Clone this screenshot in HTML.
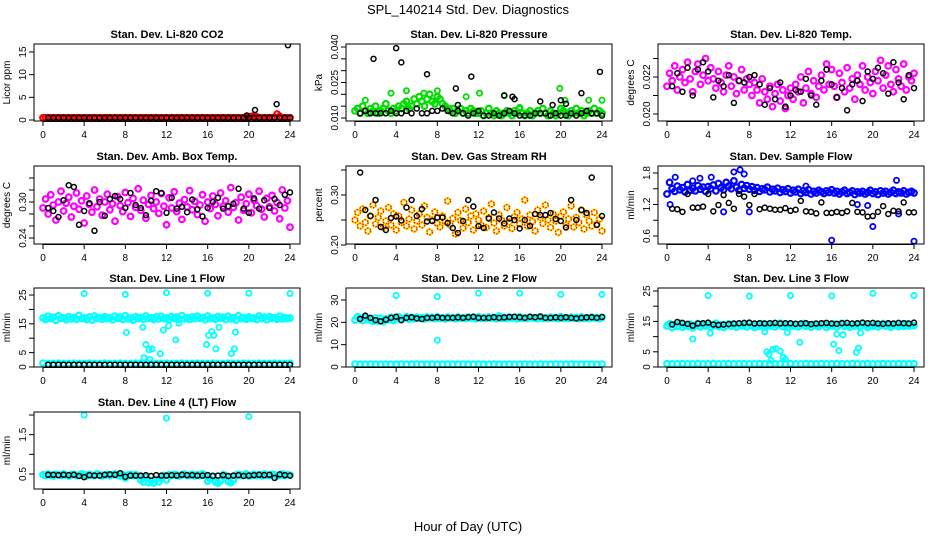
<!DOCTYPE html>
<html><head><meta charset="utf-8"><style>
html,body{margin:0;padding:0;background:#fff;}
svg{display:block;font-family:"Liberation Sans",sans-serif;}
</style></head><body>
<svg id="chart" width="936" height="540" viewBox="0 0 936 540" xmlns="http://www.w3.org/2000/svg">
<rect x="0" y="0" width="936" height="540" fill="#fff"/>
<text x="468" y="14" text-anchor="middle" font-size="13">SPL_140214  Std. Dev. Diagnostics</text>
<text x="468" y="531" text-anchor="middle" font-size="13">Hour of Day (UTC)</text>
</svg>
<script>
// ---- data arrays ----
const xTicks = [0,4,8,12,16,20,24];

const co2Col = [0.5,0.5,0.5,0.5,0.5,0.5,0.5,0.5,0.5,0.5,0.5,0.5,0.5,0.5,0.5,0.5,0.5,0.5,0.5,0.5,0.5,0.5,0.5,0.5,0.5,0.5,0.5,0.5,0.5,0.5,0.5,0.5,0.5,0.5,0.5,0.5,0.5,0.5,0.5,0.5,0.5,0.5,0.5,0.5,0.5,0.5,0.5,0.5,0.5,0.5,0.5,0.5,0.5,0.5,0.5,0.5,0.5,0.5,0.5,0.5,0.5,0.5,0.5,0.5,0.5,0.5,0.5,0.5,0.5,0.5,0.5,0.5,0.5,0.5,0.5,0.5,0.5,0.5,0.5,0.6,0.7,0.8,0.9,0.7,0.5,0.5,0.5,0.5,0.5,0.5,0.6,1.3,0.8,0.5,0.5,0.5,0.5];
const co2Blk = [0.5,0.5,0.5,0.5,0.5,0.5,0.5,0.5,0.5,0.5,0.5,0.5,0.5,0.5,0.5,0.5,0.5,0.5,0.5,0.5,0.5,0.5,0.5,0.5,0.5,0.5,0.5,0.5,0.5,0.5,0.5,0.5,0.5,0.5,0.5,0.5,0.5,0.5,0.5,0.5,0.5,0.5,0.5,0.5,0.5,0.5,0.5,0.5];
const co2OutX = [19.8,20.6,22.7,23.8];
const co2OutY = [1.0,2.2,3.5,16.5];

const presCol = [0.013,0.014,0.012,0.015,0.013,0.012,0.014,0.013,0.015,0.012,0.013,0.014,0.016,0.013,0.012,0.014,0.013,0.015,0.014,0.016,0.017,0.014,0.015,0.018,0.016,0.019,0.017,0.015,0.018,0.020,0.017,0.016,0.019,0.018,0.016,0.015,0.014,0.013,0.014,0.012,0.013,0.014,0.012,0.013,0.012,0.014,0.013,0.012,0.012,0.013,0.011,0.012,0.014,0.012,0.011,0.013,0.012,0.011,0.012,0.013,0.012,0.011,0.013,0.012,0.014,0.012,0.011,0.012,0.013,0.011,0.012,0.013,0.012,0.014,0.012,0.011,0.013,0.012,0.011,0.012,0.014,0.013,0.012,0.011,0.013,0.012,0.014,0.012,0.013,0.011,0.012,0.013,0.012,0.014,0.012,0.013,0.012];
const presColOutX = [1,3.5,5,6.7,8,10.8,12.1,14.5,16,19.9,20.4,22.7,24];
const presColOutY = [0.0175,0.0205,0.0215,0.0205,0.0215,0.019,0.0205,0.0195,0.0145,0.0225,0.0175,0.0175,0.0175];
const presBlk = [0.012,0.013,0.012,0.012,0.012,0.012,0.013,0.012,0.012,0.013,0.012,0.014,0.012,0.012,0.013,0.013,0.014,0.013,0.012,0.013,0.012,0.011,0.012,0.013,0.011,0.011,0.012,0.011,0.012,0.013,0.012,0.011,0.011,0.011,0.012,0.012,0.012,0.011,0.012,0.011,0.011,0.012,0.011,0.012,0.013,0.012,0.012,0.011];
const presOutX = [1.8,4,4.5,7,9.8,10,11.3,14.5,18,19.2,20,20.5,22,23.8,15.3,15.5];
const presOutY = [0.035,0.0395,0.0335,0.0285,0.0225,0.0155,0.0275,0.0195,0.017,0.0155,0.0175,0.016,0.0205,0.0295,0.019,0.018];

const tempCol = [0.0215,0.0222,0.0218,0.0226,0.0213,0.0220,0.0224,0.0217,0.0228,0.0219,0.0212,0.0223,0.0227,0.0216,0.0221,0.0230,0.0218,0.0225,0.0219,0.0214,0.0223,0.0217,0.0212,0.0221,0.0226,0.0215,0.0220,0.0211,0.0218,0.0224,0.0213,0.0219,0.0216,0.0210,0.0217,0.0213,0.0206,0.0219,0.0212,0.0208,0.0215,0.0204,0.0211,0.0216,0.0207,0.0213,0.0203,0.0210,0.0214,0.0208,0.0216,0.0212,0.0220,0.0206,0.0214,0.0223,0.0211,0.0218,0.0209,0.0215,0.0221,0.0213,0.0227,0.0216,0.0224,0.0215,0.0209,0.0222,0.0217,0.0212,0.0225,0.0214,0.0219,0.0208,0.0221,0.0216,0.0226,0.0213,0.0220,0.0217,0.0211,0.0223,0.0218,0.0229,0.0214,0.0221,0.0226,0.0216,0.0212,0.0224,0.0219,0.0215,0.0227,0.0213,0.0220,0.0218,0.0222];
const tempBlk = [0.0215,0.0222,0.0212,0.0225,0.0210,0.0224,0.0228,0.0223,0.0209,0.0218,0.0215,0.0221,0.0206,0.0218,0.0217,0.0220,0.0221,0.0216,0.0205,0.0214,0.0208,0.0217,0.0204,0.0210,0.0213,0.0212,0.0219,0.0210,0.0205,0.0218,0.0224,0.0216,0.0209,0.0214,0.0202,0.0216,0.0218,0.0207,0.0223,0.0219,0.0225,0.0222,0.0211,0.0228,0.0217,0.0208,0.0221,0.0214];

const ambCol = [0.290,0.305,0.280,0.312,0.295,0.270,0.300,0.318,0.285,0.298,0.308,0.275,0.293,0.315,0.288,0.302,0.265,0.310,0.296,0.283,0.320,0.292,0.305,0.278,0.300,0.313,0.287,0.297,0.268,0.309,0.294,0.284,0.316,0.299,0.276,0.306,0.291,0.322,0.286,0.303,0.273,0.296,0.311,0.289,0.300,0.281,0.314,0.293,0.262,0.307,0.290,0.317,0.284,0.298,0.271,0.304,0.292,0.319,0.287,0.301,0.279,0.295,0.312,0.268,0.300,0.289,0.310,0.296,0.277,0.315,0.293,0.302,0.283,0.324,0.291,0.299,0.270,0.308,0.286,0.297,0.313,0.282,0.303,0.294,0.318,0.288,0.275,0.306,0.292,0.311,0.285,0.299,0.272,0.320,0.290,0.302,0.258];
const ambBlk = [0.290,0.285,0.275,0.303,0.328,0.325,0.262,0.285,0.298,0.252,0.300,0.277,0.305,0.310,0.305,0.290,0.315,0.295,0.290,0.278,0.302,0.318,0.315,0.282,0.307,0.289,0.292,0.283,0.304,0.288,0.276,0.290,0.300,0.307,0.289,0.293,0.297,0.322,0.289,0.282,0.306,0.289,0.303,0.290,0.305,0.295,0.312,0.316];

const rhCol = [0.250,0.265,0.238,0.272,0.245,0.228,0.258,0.280,0.242,0.255,0.268,0.235,0.248,0.275,0.240,0.262,0.230,0.258,0.245,0.285,0.238,0.252,0.270,0.232,0.248,0.262,0.240,0.278,0.255,0.226,0.250,0.266,0.243,0.236,0.258,0.247,0.288,0.240,0.253,0.222,0.265,0.249,0.234,0.272,0.245,0.258,0.230,0.262,0.250,0.240,0.268,0.235,0.255,0.282,0.244,0.228,0.260,0.250,0.238,0.275,0.246,0.233,0.257,0.265,0.242,0.252,0.290,0.238,0.260,0.247,0.228,0.270,0.255,0.243,0.280,0.250,0.235,0.262,0.248,0.225,0.258,0.266,0.240,0.252,0.278,0.236,0.255,0.245,0.270,0.232,0.260,0.248,0.238,0.265,0.242,0.252,0.228];
const rhBlk = [0.345,0.270,0.258,0.290,0.236,0.230,0.254,0.257,0.249,0.275,0.290,0.258,0.272,0.247,0.248,0.255,0.255,0.244,0.234,0.224,0.248,0.290,0.277,0.238,0.234,0.253,0.265,0.253,0.243,0.253,0.250,0.233,0.250,0.238,0.262,0.260,0.260,0.264,0.252,0.248,0.235,0.290,0.250,0.270,0.264,0.335,0.240,0.258];

const flowCol = [1.40,1.62,1.50,1.45,1.55,1.48,1.52,1.44,1.58,1.47,1.51,1.46,1.56,1.49,1.53,1.45,1.54,1.50,1.57,1.46,1.60,1.52,1.48,1.62,1.55,1.50,1.65,1.53,1.47,1.58,1.51,1.56,1.49,1.54,1.47,1.52,1.45,1.50,1.48,1.53,1.44,1.49,1.46,1.51,1.43,1.48,1.45,1.50,1.42,1.47,1.44,1.49,1.41,1.46,1.43,1.48,1.40,1.45,1.42,1.47,1.44,1.41,1.46,1.43,1.48,1.42,1.45,1.40,1.44,1.47,1.41,1.43,1.46,1.39,1.44,1.42,1.45,1.40,1.43,1.47,1.41,1.44,1.39,1.46,1.42,1.45,1.40,1.43,1.47,1.41,1.44,1.42,1.46,1.40,1.43,1.45,1.42];
const flowColOutX = [0.3,0.8,3.2,5.5,6.5,7.1,7.5,8,16,19.5,20,22.3,22.5,24,4.3,18.5,13.5,2.5];
const flowColOutY = [1.2,1.72,1.70,1.06,1.82,1.86,1.78,1.06,0.52,1.18,0.78,1.66,1.02,0.5,1.72,1.2,1.55,1.65];
const flowBlk = [1.12,1.11,1.06,1.40,1.14,1.14,1.16,1.40,1.07,1.19,1.38,1.23,1.12,1.40,1.35,1.19,1.40,1.11,1.14,1.12,1.10,1.10,1.13,1.08,1.10,1.27,1.07,1.06,1.03,1.24,1.04,1.04,1.06,1.04,1.07,1.23,1.06,1.05,0.97,0.98,1.06,1.17,1.02,1.08,1.07,1.24,1.05,1.05];

const line1Hi = [17.0,16.5,17.6,16.8,17.3,16.2,17.8,16.9,17.1,16.4,17.5,16.7,17.2,16.6,17.9,16.8,17.0,16.5,17.4,16.3,17.7,16.9,17.2,16.6,17.5,16.8,17.1,16.4,17.6,16.9,17.3,16.5,17.8,16.7,17.0,16.3,17.5,16.8,17.2,16.6,17.7,16.9,17.1,16.5,17.4,16.7,17.6,16.8,17.0,16.4,17.5,16.9,17.3,16.6,17.8,16.7,17.1,16.5,17.4,16.8,17.6,16.9,17.2,16.4,17.7,16.8,17.0,16.6,17.5,16.9,17.3,16.5,17.6,16.7,17.1,16.3,17.8,16.8,17.2,16.6,17.4,16.9,17.0,16.5,17.7,16.8,17.3,16.4,17.5,16.9,17.1,16.6,17.6,16.7,17.2,16.8,17.0];
const line1Lo = [1.3,1.2,1.2,1.3,1.2,1.2,1.3,1.2,1.2,1.3,1.2,1.2,1.3,1.2,1.2,1.3,1.2,1.2,1.3,1.2,1.2,1.3,1.2,1.2,1.3,1.2,1.2,1.3,1.2,1.2,1.3,1.2,1.2,1.3,1.2,1.2,1.3,1.2,1.2,1.3,1.2,1.2,1.3,1.2,1.2,1.3,1.2,1.2,1.3];
const line1OutX = [4,8,12,16,20,24,8.1,9.7,10,10.3,10.6,11.4,11.7,12.2,12.9,13.2,15.9,16.1,16.4,16.6,16.8,17.1,18.3,18.6,18.7,9.8,10.4];
const line1OutY = [25.5,25.2,25.8,25.6,25.6,25.5,12,13.8,7.8,6,6.3,4.6,12.8,14.3,9.4,15.2,7.8,11,12.3,11,6.3,13.8,4.7,6.3,12.1,3.2,2.6];
const line1Blk = [0.8,0.8,0.8,0.8,0.8,0.8,0.8,0.8,0.8,0.8,0.8,0.8,0.8,0.8,0.8,0.8,0.8,0.8,0.8,0.8,0.8,0.8,0.8,0.8,0.8,0.8,0.8,0.8,0.8,0.8,0.8,0.8,0.8,0.8,0.8,0.8,0.8,0.8,0.8,0.8,0.8,0.8,0.8,0.8,0.8,0.8,0.8,0.8];

const line2Hi = [21.0,22.5,21.8,20.8,22.2,21.5,21.0,20.5,22.0,20.6,21.8,20.4,21.5,21.2,22.3,20.8,21.6,22.4,21.2,21.9,22.5,21.4,22.0,21.6,22.3,21.8,22.1,21.5,22.4,21.9,22.2,21.6,22.5,21.8,22.0,21.5,22.3,21.9,22.1,21.6,22.4,21.8,22.0,21.7,22.3,21.9,22.1,21.6,22.5,21.8,22.0,21.7,22.4,21.9,22.2,21.6,22.8,21.8,22.0,21.7,22.4,21.9,22.2,21.6,22.5,21.8,22.0,21.7,22.3,21.9,22.1,21.6,22.4,21.8,22.0,21.7,22.3,21.9,22.1,21.6,22.5,21.8,22.0,21.7,22.3,21.9,22.2,21.6,22.4,21.8,22.0,21.7,22.3,21.9,22.1,21.6,22.2];
const line2Lo = [1.3,1.2,1.2,1.3,1.2,1.2,1.3,1.2,1.2,1.3,1.2,1.2,1.3,1.2,1.2,1.3,1.2,1.2,1.3,1.2,1.2,1.3,1.2,1.2,1.3,1.2,1.2,1.3,1.2,1.2,1.3,1.2,1.2,1.3,1.2,1.2,1.3,1.2,1.2,1.3,1.2,1.2,1.3,1.2,1.2,1.3,1.2,1.2,1.3];
const line2OutX = [4,8,8,12,16,20,24];
const line2OutY = [32,31.5,12,33,33,32.5,32.5];
const line2Blk = [21.5,23,22,21,20.5,21.2,22,22.5,21,22,22.3,21.8,21.5,22,22,22.3,22,22,22,22.2,22,22.3,22.5,22,22,22,22.3,22,22.2,22.4,22.5,22.3,22,22.5,22.3,22.6,22,22,22.2,22,22.3,22,21.8,22,22.2,22.3,22,22.4];

const line3Hi = [13.5,14.2,13.0,13.8,13.3,14.4,13.1,13.7,13.4,14.1,12.9,13.6,14.3,13.2,13.8,13.5,14.0,13.1,13.7,14.4,13.3,13.9,13.0,13.6,14.2,13.4,13.8,13.1,14.1,13.5,13.9,13.2,14.3,13.6,13.0,13.8,13.4,14.2,13.1,13.7,13.5,14.0,13.2,13.8,14.4,13.3,13.6,13.0,13.9,13.5,14.1,13.2,13.7,14.3,13.4,13.8,13.1,14.0,13.6,13.3,13.9,14.2,13.0,13.7,13.5,14.1,13.2,13.8,14.4,13.4,13.6,13.1,14.0,13.5,13.9,13.3,14.2,13.6,13.0,13.8,13.4,14.1,13.2,13.7,14.3,13.5,13.9,13.1,13.6,14.0,13.3,13.8,13.4,14.2,13.5,13.7,13.6];
const line3Lo = [1.1,1.0,1.0,1.1,1.0,1.0,1.1,1.0,1.0,1.1,1.0,1.0,1.1,1.0,1.0,1.1,1.0,1.0,1.1,1.0,1.0,1.1,1.0,1.0,1.1,1.0,1.0,1.1,1.0,1.0,1.1,1.0,1.0,1.1,1.0,1.0,1.1,1.0,1.0,1.1,1.0,1.0,1.1,1.0,1.0,1.1,1.0,1.0,1.1];
const line3OutX = [4,8,12,16,20,24,2.5,4.2,9.5,9.9,10.3,10.6,11,11.3,11.7,12.9,16.2,16.5,16.7,17.1,18.4,18.6,18.8,9.7,11.5,10.1];
const line3OutY = [23.5,23.3,23.5,23.4,24.2,23.5,9.2,11.1,11.6,4.2,5.8,6,5.2,3.2,11.4,8.1,7.5,10.8,5.4,10.6,4.8,6.2,11.2,5,2.5,2.2];
const line3Blk = [14.0,14.8,14.5,14.2,13.6,14.3,14.4,14.6,14.0,13.8,14.0,14.1,14.3,14.4,14.5,14.6,14.3,14.4,14.3,14.4,14.5,14.3,14.4,14.4,14.2,14.3,14.4,14.1,14.3,14.4,14.5,14.3,14.2,14.4,14.5,14.3,14.4,14.6,14.4,14.5,14.3,14.2,14.4,14.3,14.5,14.4,14.3,14.6];

const line4Col = [0.48,0.46,0.50,0.47,0.45,0.49,0.48,0.46,0.50,0.47,0.45,0.48,0.49,0.46,0.47,0.50,0.48,0.45,0.49,0.47,0.46,0.50,0.48,0.45,0.47,0.49,0.46,0.48,0.50,0.47,0.45,0.48,0.40,0.47,0.49,0.46,0.48,0.45,0.35,0.30,0.42,0.28,0.33,0.27,0.36,0.30,0.40,0.46,0.35,0.48,0.46,0.49,0.47,0.45,0.48,0.50,0.46,0.47,0.49,0.45,0.48,0.46,0.50,0.47,0.32,0.38,0.45,0.30,0.27,0.33,0.48,0.46,0.31,0.28,0.35,0.47,0.49,0.46,0.48,0.50,0.45,0.47,0.49,0.46,0.48,0.45,0.50,0.47,0.46,0.49,0.48,0.45,0.47,0.50,0.46,0.48,0.47];
const line4OutX = [4,12,20];
const line4OutY = [2.0,1.92,1.96];
const line4Blk = [0.48,0.48,0.47,0.48,0.47,0.48,0.45,0.42,0.47,0.46,0.46,0.48,0.49,0.48,0.52,0.43,0.46,0.46,0.46,0.47,0.45,0.47,0.46,0.46,0.47,0.46,0.48,0.47,0.47,0.46,0.46,0.47,0.45,0.46,0.47,0.45,0.46,0.47,0.45,0.46,0.47,0.48,0.47,0.48,0.40,0.49,0.47,0.46];

// ---- panel layout ----
const panels = [
 {id:'co2',title:'Stan. Dev. Li-820 CO2',ylab:'Licor ppm',col:0,row:0,v0:0,p0:120,v1:15,p1:52,ticks:[0,5,10,15],labels:['0','5','10','15'],
  series:[{d:co2Col,c:'#ff0000'}],outs:[{x:co2OutX,y:co2OutY,c:'#000'}],blk:co2Blk},
 {id:'pressure',title:'Stan. Dev. Li-820 Pressure',ylab:'kPa',col:1,row:0,v0:0.010,p0:118,v1:0.040,p1:47,ticks:[0.010,0.015,0.020,0.025,0.030,0.035,0.040],labels:['0.010','','','0.025','','','0.040'],
  series:[{d:presCol,c:'#00dd00'}],outs:[{x:presColOutX,y:presColOutY,c:'#00dd00'},{x:presOutX,y:presOutY,c:'#000'}],blk:presBlk},
 {id:'temp',title:'Stan. Dev. Li-820 Temp.',ylab:'degrees C',col:2,row:0,v0:0.020,p0:114,v1:0.022,p1:77,ticks:[0.020,0.021,0.022,0.023],labels:['0.020','','0.022',''],
  series:[{d:tempCol,c:'#ff00ff'}],outs:[],blk:tempBlk},
 {id:'ambbox',title:'Stan. Dev. Amb. Box Temp.',ylab:'degrees C',col:0,row:1,v0:0.24,p0:238,v1:0.30,p1:202,ticks:[0.24,0.26,0.28,0.30,0.32,0.34],labels:['0.24','','','0.30','',''],
  series:[{d:ambCol,c:'#ff00ff'}],outs:[],blk:ambBlk},
 {id:'rh',title:'Stan. Dev. Gas Stream RH',ylab:'percent',col:1,row:1,v0:0.20,p0:245,v1:0.30,p1:195,ticks:[0.20,0.25,0.30,0.35],labels:['0.20','','0.30',''],
  series:[{d:rhCol,c:'#ffdd00',dash:'#ff0000'}],outs:[],blk:rhBlk},
 {id:'sampleflow',title:'Stan. Dev. Sample Flow',ylab:'ml/min',col:2,row:1,v0:0.6,p0:236,v1:1.8,p1:173,ticks:[0.6,0.9,1.2,1.5,1.8],labels:['0.6','','1.2','','1.8'],
  series:[{d:flowCol,c:'#0000ff'}],outs:[{x:flowColOutX,y:flowColOutY,c:'#0000ff'}],blk:flowBlk},
 {id:'line1',title:'Stan. Dev. Line 1 Flow',ylab:'ml/min',col:0,row:2,v0:0,p0:367,v1:25,p1:295,ticks:[0,5,10,15,20,25],labels:['0','5','','15','','25'],
  series:[{d:line1Hi,c:'#00ffff'},{d:line1Lo,c:'#00ffff'}],outs:[{x:line1OutX,y:line1OutY,c:'#00ffff'}],blk:line1Blk},
 {id:'line2',title:'Stan. Dev. Line 2 Flow',ylab:'ml/min',col:1,row:2,v0:0,p0:367,v1:30,p1:300,ticks:[0,10,20,30],labels:['0','10','20','30'],
  series:[{d:line2Hi,c:'#00ffff'},{d:line2Lo,c:'#00ffff'}],outs:[{x:line2OutX,y:line2OutY,c:'#00ffff'}],blk:line2Blk},
 {id:'line3',title:'Stan. Dev. Line 3 Flow',ylab:'ml/min',col:2,row:2,v0:0,p0:367,v1:25,p1:291,ticks:[0,5,10,15,20,25],labels:['0','5','','15','','25'],
  series:[{d:line3Hi,c:'#00ffff'},{d:line3Lo,c:'#00ffff'}],outs:[{x:line3OutX,y:line3OutY,c:'#00ffff'}],blk:line3Blk},
 {id:'line4',title:'Stan. Dev. Line 4 (LT) Flow',ylab:'ml/min',col:0,row:3,v0:0.5,p0:474,v1:2.0,p1:415,ticks:[0.5,1.0,1.5,2.0],labels:['0.5','','1.5',''],
  series:[{d:line4Col,c:'#00ffff'}],outs:[{x:line4OutX,y:line4OutY,c:'#00ffff'}],blk:line4Blk}
];
const colX0 = [43,355,667];
const rowBox = [[44,121],[166,244],[288,367],[412,489]];
const ylabX = [10,322,634];

const NS='http://www.w3.org/2000/svg';
const svg=document.getElementById('chart');
function mk(tag,attrs,parent){const e=document.createElementNS(NS,tag);for(const k in attrs)e.setAttribute(k,attrs[k]);(parent||svg).appendChild(e);return e;}

panels.forEach(p=>{
  const g=mk('g',{});
  
  
  const x0=colX0[p.col], xs=v=>x0+v*247/24;
  const ys=v=>p.p0+(v-p.v0)*(p.p1-p.p0)/(p.v1-p.v0);
  const [bt,bb]=rowBox[p.row];
  const clipId='clip-'+p.id;
  const cp=mk('clipPath',{id:clipId},g);
  mk('rect',{x:x0-9,y:bt,width:266,height:bb-bt},cp);
  const t=mk('text',{x:x0+124,y:bt-6,'text-anchor':'middle','font-size':'11','font-weight':'bold'},g);
  t.textContent=p.title;
  
  
  const yl=mk('text',{x:ylabX[p.col],y:(bt+bb)/2,'text-anchor':'middle','font-size':'10',transform:'rotate(-90 '+ylabX[p.col]+' '+((bt+bb)/2)+')'},g);
  yl.textContent=p.ylab;
  
  
  const marks=mk('g',{'clip-path':'url(#'+clipId+')'},g);
  
  
  p.series.forEach(s=>{
    const n=s.d.length;
    s.d.forEach((v,i)=>{
      const c=mk('circle',{cx:xs(i*24/(n-1)),cy:ys(v),r:2.8,fill:'none',stroke:s.c,'stroke-width':2.2},marks);
      
      
      if(s.dash){const c2=mk('circle',{cx:xs(i*24/(n-1)),cy:ys(v),r:2.8,fill:'none',stroke:s.dash,'stroke-width':1.2,'stroke-dasharray':'1.5,1.5'},marks);
        
        }
    });
  });
  p.outs.filter(o=>o.c!=='#000').forEach(o=>{
    o.x.forEach((xv,i)=>{
      const c=mk('circle',{cx:xs(xv),cy:ys(o.y[i]),r:2.6,fill:'none',stroke:o.c,'stroke-width':1.8},marks);
      
      
    });
  });
  p.blk.forEach((v,i)=>{
    const c=mk('circle',{cx:xs(0.5+i*0.5),cy:ys(v),r:2.5,fill:'none',stroke:'#000','stroke-width':1.5},marks);
    
    
  });
  p.outs.filter(o=>o.c==='#000').forEach(o=>{
    o.x.forEach((xv,i)=>{
      const c=mk('circle',{cx:xs(xv),cy:ys(o.y[i]),r:2.5,fill:'none',stroke:'#000','stroke-width':1.5},marks);
      
      
    });
  });
  const box=mk('rect',{x:x0-9,y:bt,width:266,height:bb-bt,fill:'none',stroke:'#000','stroke-width':1},g);
  
  
  mk('line',{x1:xs(0),x2:xs(24),y1:bb+0.5,y2:bb+0.5,stroke:'#000'},g);
  xTicks.forEach(v=>{
    mk('line',{x1:xs(v),x2:xs(v),y1:bb,y2:bb+5,stroke:'#000'},g);
    const tl=mk('text',{x:xs(v),y:bb+17,'text-anchor':'middle','font-size':'10'},g);
    tl.textContent=v;
    
    
  });
  const yA=x0-9;
  mk('line',{x1:yA,x2:yA,y1:ys(p.ticks[0]),y2:ys(p.ticks[p.ticks.length-1]),stroke:'#000'},g);
  p.ticks.forEach((v,i)=>{
    const yy=ys(v);
    mk('line',{x1:yA-5,x2:yA,y1:yy,y2:yy,stroke:'#000'},g);
    if(p.labels[i]){
      const lx=yA-8;
      const tl=mk('text',{x:lx,y:yy,'text-anchor':'middle','font-size':'10',transform:'rotate(-90 '+lx+' '+yy+')'},g);
      tl.textContent=p.labels[i];
      
      
    }
  });
});
</script>
</body></html>
